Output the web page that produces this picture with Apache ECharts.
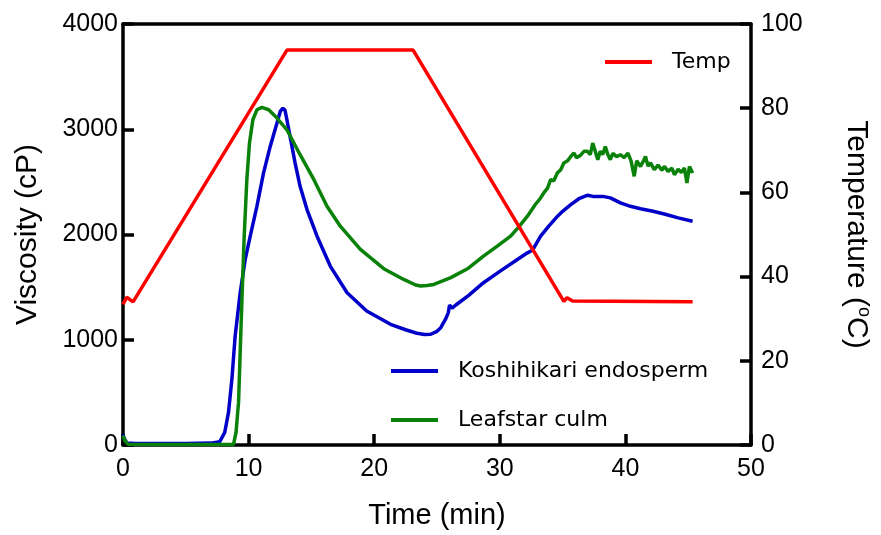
<!DOCTYPE html>
<html>
<head>
<meta charset="utf-8">
<script src="https://cdn.jsdelivr.net/npm/echarts@6/dist/echarts.min.js"></script>
<style>html,body{margin:0;padding:0;background:#fff;}#c{width:881px;height:535px;}</style>
</head>
<body>
<div id="c"></div>
<script>
// Time (min), value pairs
const tempPoints = [[0,33.4],[0.3,35.1],[0.8,34.0],[13.05,93.8],[23.1,93.8],[35.1,34.1],[35.35,35.0],[35.8,34.2],[45.35,34.0]];
const koshihikariPoints = [[0,100],[0.1,60],[0.3,20],[1,15],[3,15],[5,15],[7,18],[7.7,31],[8.1,120],[8.4,310],[8.67,626],[8.93,1036],[9.33,1447],[9.73,1763],[10.13,1984],[10.66,2268],[11.19,2585],[11.72,2837],[12.26,3059],[12.52,3169],[12.73,3200],[12.9,3180],[13.0,3121],[13.3,2932],[13.7,2680],[14.1,2458],[14.65,2237],[15.45,1984],[16.5,1700],[17.84,1447],[19.4,1273],[21.3,1147],[22.5,1095],[23.4,1062],[24.0,1050],[24.5,1052],[25.0,1080],[25.3,1115],[25.7,1200],[25.9,1258],[26.0,1330],[26.2,1300],[26.5,1330],[27.5,1420],[28.7,1542],[30.0,1650],[31.4,1763],[32.2,1826],[32.6,1850],[33.25,1984],[33.9,2080],[34.6,2174],[35.0,2220],[35.65,2284],[36.3,2340],[37.0,2373],[37.5,2360],[38.3,2360],[38.8,2348],[39.6,2300],[40.4,2268],[41.2,2245],[42.2,2221],[43.1,2195],[44.2,2158],[45.35,2126]];
const leafstarPoints = [[0,90],[0.15,40],[0.4,8],[3,5],[6,5],[8.8,5],[9.0,120],[9.2,407],[9.33,879],[9.46,1352],[9.65,1984],[9.86,2521],[10.07,2869],[10.34,3090],[10.66,3185],[11.06,3207],[11.6,3185],[12.26,3106],[13.05,2995],[14.1,2758],[15.2,2521],[16.24,2268],[17.3,2079],[18.9,1858],[20.76,1675],[22.35,1573],[23.3,1520],[23.7,1510],[24.2,1515],[24.75,1525],[26.1,1590],[27.5,1680],[28.7,1794],[29.8,1890],[30.86,1984],[31.5,2070],[32.2,2174],[32.8,2280],[33.2,2340],[33.5,2395],[33.8,2440],[34.05,2521],[34.3,2510],[34.58,2584],[34.85,2616],[35.1,2680],[35.4,2700],[35.65,2742],[35.9,2774],[36.1,2730],[36.4,2750],[36.7,2790],[36.98,2790],[37.2,2760],[37.4,2869],[37.6,2790],[37.8,2711],[38.0,2790],[38.2,2760],[38.4,2837],[38.6,2760],[38.8,2711],[39.0,2770],[39.3,2740],[39.6,2758],[39.9,2730],[40.2,2774],[40.45,2700],[40.7,2553],[40.9,2700],[41.2,2647],[41.4,2690],[41.6,2742],[41.8,2650],[42.0,2680],[42.3,2616],[42.6,2660],[42.9,2610],[43.1,2647],[43.4,2600],[43.7,2630],[43.9,2568],[44.2,2620],[44.45,2590],[44.7,2631],[44.9,2490],[45.1,2647],[45.35,2584]];
const seriesNames = ['Temp','Koshihikari endosperm','Leafstar culm'];

const FONT = 'Liberation Sans';
const chart = echarts.init(document.getElementById('c'), null, {renderer:'canvas'});
const axisLine = () => ({show:true, onZero:false, lineStyle:{color:'#000', width:3.5}});
const tick = () => ({show:true, inside:true, length:11, lineStyle:{color:'#000', width:3.5}});
const lbl = (m) => ({margin:m, color:'#000', fontFamily:FONT, fontSize:25, formatter:(v)=>String(v)});
const legendText = {color:'#000', fontFamily:'DejaVu Sans', fontSize:22, padding:[0,0,0,15]};
const legendBase = {left:386, itemWidth:47, itemHeight:4, icon:'rect', textStyle:legendText};
chart.setOption({
  animation:false,
  backgroundColor:'#fff',
  grid:{left:123, right:129, top:24, bottom:89, containLabel:false},
  legend:[
    Object.assign({}, legendBase, {data:[seriesNames[0]], left:600, top:46}),
    Object.assign({}, legendBase, {data:[seriesNames[1]], top:355}),
    Object.assign({}, legendBase, {data:[seriesNames[2]], top:404})
  ],
  xAxis:[
    {type:'value', min:0, max:50, interval:10, position:'bottom',
     axisLine:axisLine(), axisTick:tick(), splitLine:{show:false},
     axisLabel:lbl(12),
     name:'Time (min)', nameLocation:'middle', nameGap:56,
     nameTextStyle:{color:'#000', fontFamily:FONT, fontSize:29}},
    {type:'value', min:0, max:50, position:'top', axisLine:axisLine(),
     axisTick:{show:false}, axisLabel:{show:false}, splitLine:{show:false}}
  ],
  yAxis:[
    {type:'value', min:0, max:4000, interval:1000, position:'left',
     axisLine:axisLine(), axisTick:tick(), splitLine:{show:false},
     axisLabel:lbl(5),
     name:'Viscosity (cP)', nameLocation:'middle', nameGap:80, nameRotate:90,
     nameTextStyle:{color:'#000', fontFamily:FONT, fontSize:30}},
    {type:'value', min:0, max:100, interval:20, position:'right',
     axisLine:axisLine(), axisTick:tick(), splitLine:{show:false},
     axisLabel:lbl(10),
     name:'Temperature ({sup|o}C)', nameLocation:'middle', nameGap:88, nameRotate:-90,
     nameTextStyle:{color:'#000', fontFamily:FONT, fontSize:30, lineHeight:34,
       rich:{sup:{fontFamily:FONT, fontSize:18, color:'#000', verticalAlign:'top', lineHeight:34, padding:[0,0,12,0]}}}}
  ],
  series:[
    {name:seriesNames[0], type:'line', data:tempPoints, yAxisIndex:1, xAxisIndex:0, symbol:'none', showSymbol:false,
     lineStyle:{color:'#ff0000', width:3.5}, itemStyle:{color:'#ff0000'}, z:3},
    {name:seriesNames[1], type:'line', data:koshihikariPoints, yAxisIndex:0, xAxisIndex:0, symbol:'none', showSymbol:false,
     lineStyle:{color:'#0000c8', width:3.5}, itemStyle:{color:'#0000c8'}, z:2},
    {name:seriesNames[2], type:'line', data:leafstarPoints, yAxisIndex:0, xAxisIndex:0, symbol:'none', showSymbol:false,
     lineStyle:{color:'#0a820a', width:3.5}, itemStyle:{color:'#0a820a'}, z:2}
  ]
});
</script>
</body>
</html>
